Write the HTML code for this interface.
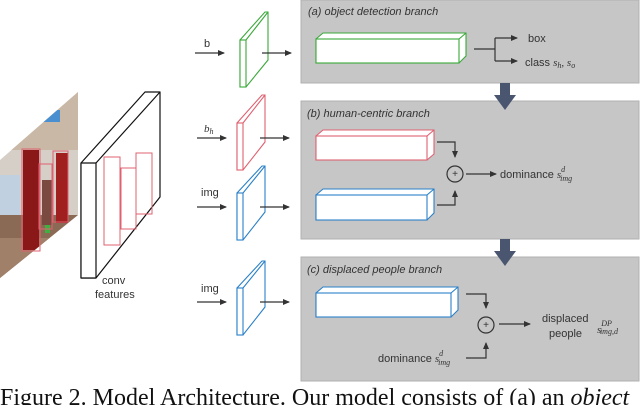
<!DOCTYPE html>
<html><head><style>
body{margin:0;background:#fff;width:640px;height:405px;overflow:hidden}
svg text{fill:#333}
.s{font-family:"Liberation Sans",sans-serif}
.r{font-family:"Liberation Serif",serif;font-style:italic}
</style></head><body>
<svg width="640" height="405" viewBox="0 0 640 405">
<defs>
<marker id="ah" markerWidth="8" markerHeight="8" refX="6" refY="3" orient="auto" markerUnits="userSpaceOnUse"><path d="M0,0 L7,3 L0,6 z" fill="#333"/></marker>
<clipPath id="pc"><polygon points="0,160 78,92 78,215 0,278"/></clipPath>
</defs>
<rect x="301" y="0" width="338" height="83" fill="#c6c6c6" stroke="#b0b0b0"/>
<rect x="301" y="101" width="338" height="138" fill="#c6c6c6" stroke="#b0b0b0"/>
<rect x="301" y="257" width="338" height="124" fill="#c6c6c6" stroke="#b0b0b0"/>
<path d="M500,83 h10 v12 h6 l-11,15 l-11,-15 h6 z" fill="#4a5670"/>
<path d="M500,239 h10 v12 h6 l-11,15 l-11,-15 h6 z" fill="#4a5670"/>
<g class="s" font-style="italic" font-size="11"><text x="308" y="15">(a) object detection branch</text><text x="307" y="117">(b) human-centric branch</text><text x="307" y="273">(c) displaced people branch</text></g>
<g clip-path="url(#pc)">
<rect x="0" y="90" width="80" height="190" fill="#d6cfc8"/>
<rect x="0" y="90" width="80" height="60" fill="#c9b8a6"/>
<rect x="40" y="110" width="20" height="12" fill="#4a90d0"/>
<rect x="0" y="175" width="20" height="40" fill="#c0d0e0"/>
<rect x="0" y="215" width="80" height="70" fill="#8a6a55"/>
<rect x="0" y="238" width="80" height="40" fill="#a08068"/>
<rect x="23" y="150" width="16" height="100" fill="#8a1818"/>
<rect x="56" y="153" width="12" height="70" fill="#a02020"/>
<rect x="42" y="180" width="10" height="45" fill="#7a4a40"/>
<rect x="45" y="225" width="5" height="8" fill="#40b040"/>
</g>
<g fill="none" stroke="#e06070" stroke-width="1"><rect x="22" y="149" width="18" height="102"/><rect x="39" y="164" width="13" height="65"/><rect x="53" y="151" width="15" height="71"/></g>
<g fill="#fff" stroke="#111" stroke-width="1.2" stroke-linejoin="round">
<polygon points="81,163 145,92 160,92 160,197 96,278 81,278"/>
<line x1="96" y1="163" x2="160" y2="92"/>
<rect x="81" y="163" width="15" height="115"/>
</g>
<g fill="none" stroke="#e06070"><rect x="104" y="157" width="16" height="88"/><rect x="121" y="168" width="15" height="61"/><rect x="136" y="153" width="16" height="61"/></g>
<text class="s" x="102" y="284" font-size="11">conv</text><text class="s" x="95" y="298" font-size="11">features</text>
<g fill="#fff" stroke-width="1.1">
<g stroke="#3aa83a"><polygon points="240,40 265,12 268,12 268,60 246,87 240,87"/><rect x="240" y="40" width="6" height="47"/><line x1="246" y1="40" x2="268" y2="12"/></g>
<g stroke="#e06070"><polygon points="237,123 262,95 265,95 265,142 243,170 237,170"/><rect x="237" y="123" width="6" height="47"/><line x1="243" y1="123" x2="265" y2="95"/></g>
<g stroke="#2a80c8"><polygon points="237,193 262,166 265,166 265,212 243,240 237,240"/><rect x="237" y="193" width="6" height="47"/><line x1="243" y1="193" x2="265" y2="166"/></g>
<g stroke="#2a80c8"><polygon points="237,288 262,261 265,261 265,307 243,335 237,335"/><rect x="237" y="288" width="6" height="47"/><line x1="243" y1="288" x2="265" y2="261"/></g>
</g>
<g stroke="#333" stroke-width="1.3" marker-end="url(#ah)">
<line x1="195" y1="53" x2="224" y2="53"/><line x1="262" y1="53" x2="291" y2="53"/>
<line x1="197" y1="138" x2="226" y2="138"/><line x1="260" y1="138" x2="289" y2="138"/>
<line x1="197" y1="207" x2="226" y2="207"/><line x1="260" y1="207" x2="289" y2="207"/>
<line x1="197" y1="302" x2="226" y2="302"/><line x1="260" y1="302" x2="289" y2="302"/>
</g>
<g class="s" font-size="11"><text x="204" y="47">b</text><text x="201" y="196">img</text><text x="201" y="292">img</text></g>
<text class="r" x="204" y="132" font-size="11">b<tspan font-size="8" dy="2">h</tspan></text>
<g fill="#fff" stroke-width="1.1">
<g stroke="#3aa83a"><polygon points="316,39 323,33 466,33 466,56 459,63 316,63"/><rect x="316" y="39" width="143" height="24"/><line x1="459" y1="39" x2="466" y2="33"/></g>
<g stroke="#e06070"><polygon points="316,136 323,130 434,130 434,154 427,160 316,160"/><rect x="316" y="136" width="111" height="24"/><line x1="427" y1="136" x2="434" y2="130"/></g>
<g stroke="#2a80c8"><polygon points="316,195 323,189 434,189 434,213 427,220 316,220"/><rect x="316" y="195" width="111" height="25"/><line x1="427" y1="195" x2="434" y2="189"/></g>
<g stroke="#2a80c8"><polygon points="316,293 323,287 458,287 458,310 451,317 316,317"/><rect x="316" y="293" width="135" height="24"/><line x1="451" y1="293" x2="458" y2="287"/></g>
</g>
<g stroke="#333" stroke-width="1.2" fill="none">
<line x1="474" y1="49" x2="495" y2="49"/>
<polyline points="495,38 495,61"/>
<line x1="495" y1="38" x2="517" y2="38" marker-end="url(#ah)"/>
<line x1="495" y1="61" x2="517" y2="61" marker-end="url(#ah)"/>
<polyline points="437,142 455,142 455,157" marker-end="url(#ah)"/>
<polyline points="437,205 455,205 455,191" marker-end="url(#ah)"/>
<circle cx="455" cy="174" r="8"/>
<line x1="466" y1="174" x2="496" y2="174" marker-end="url(#ah)"/>
<polyline points="466,294 486,294 486,308" marker-end="url(#ah)"/>
<polyline points="466,358 486,358 486,343" marker-end="url(#ah)"/>
<circle cx="486" cy="325" r="8"/>
<line x1="499" y1="324" x2="530" y2="324" marker-end="url(#ah)"/>
</g>
<g class="s" font-size="10" text-anchor="middle"><text x="455" y="177">+</text><text x="486" y="328">+</text></g>
<g class="s" font-size="11">
<text x="528" y="42">box</text>
<text x="525" y="66">class <tspan class="r">s<tspan font-size="8" dy="2">h</tspan><tspan dy="-2">, s</tspan><tspan font-size="8" dy="2">o</tspan></tspan></text>
<text x="500" y="178">dominance <tspan class="r">s<tspan font-size="8" dy="-6">d</tspan><tspan font-size="8" dy="9" dx="-5">img</tspan></tspan></text>
<text x="542" y="322">displaced</text><text x="549" y="337">people</text>
<text x="378" y="362">dominance <tspan class="r">s<tspan font-size="8" dy="-6">d</tspan><tspan font-size="8" dy="9" dx="-5">img</tspan></tspan></text>
</g>
<text class="r" x="597" y="333" font-size="11">s<tspan font-size="8" dy="-7">DP</tspan><tspan font-size="8" dy="8" dx="-12">img,d</tspan></text>
<text x="0" y="405" font-size="24" style="fill:#111;font-family:'Liberation Serif',serif">Figure 2. Model Architecture. Our model consists of (a) an <tspan style="font-style:italic">object</tspan></text>
</svg>
</body></html>
